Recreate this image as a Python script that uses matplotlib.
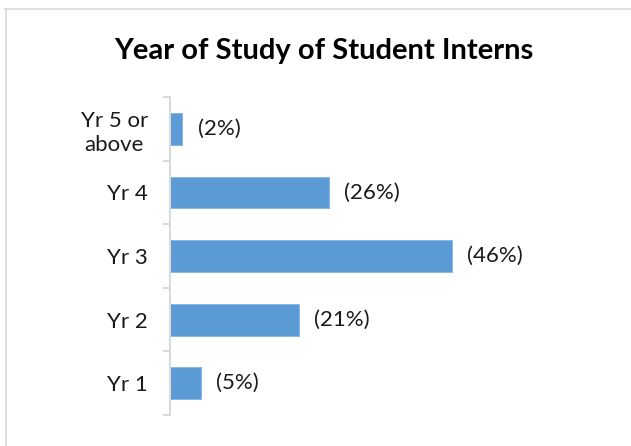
import matplotlib
matplotlib.use("Agg")
import matplotlib.pyplot as plt
from matplotlib.lines import Line2D

# ---------- data ---------- #
categories = ['Yr 1', 'Yr 2', 'Yr 3', 'Yr 4', 'Yr 5 or\nabove']
percent = [5, 21, 46, 26, 2]
labels = ['(5%)', '(21%)', '(46%)', '(26%)', '(2%)']

bar_color = '#5B9BD5'
grid_gray = '#D9D9D9'

plt.rcParams['font.family'] = ['Lato', 'DejaVu Sans']

fig = plt.figure(figsize=(6.31, 4.46), dpi=100)
ax = fig.add_axes([170 / 631, 31 / 446, 306 / 631, 318 / 446])

ypos = list(range(len(categories)))
ax.barh(ypos, percent, height=0.5, color=bar_color, edgecolor='#7FB2E0', linewidth=0.6)

for y, v, lab in zip(ypos, percent, labels):
    ax.annotate(lab, xy=(v, y), xytext=(11, 0), textcoords='offset points',
                ha='left', va='center', fontsize=16, color='#1a1a1a')

ax.set_xlim(0, 50)
ax.set_ylim(-0.5, len(categories) - 0.5)
ax.set_yticks(ypos)
ax.set_yticklabels(categories, fontsize=16, color='#1a1a1a',
                   multialignment='center', linespacing=1.25)
ax.tick_params(axis='y', which='major', length=0, pad=16)
ax.set_yticks([i - 0.5 for i in range(len(categories) + 1)], minor=True)
ax.tick_params(axis='y', which='minor', length=5, width=1.5, color=grid_gray)
ax.set_xticks([])

for s in ['top', 'right', 'bottom']:
    ax.spines[s].set_visible(False)
ax.spines['left'].set_color(grid_gray)
ax.spines['left'].set_linewidth(1.5)

fig.text(324 / 631, 1 - 51 / 446, 'Year of Study of Student Interns',
         ha='center', va='center', fontsize=21, fontweight='bold', color='#000000')

# chart area border (top and left visible)
fig.add_artist(Line2D([5 / 631, 1], [1 - 8.5 / 446, 1 - 8.5 / 446],
                      transform=fig.transFigure, color=grid_gray, linewidth=1.2))
fig.add_artist(Line2D([5.5 / 631, 5.5 / 631], [0, 1 - 8.5 / 446],
                      transform=fig.transFigure, color=grid_gray, linewidth=1.2))

fig.savefig('out.png', dpi=100)
